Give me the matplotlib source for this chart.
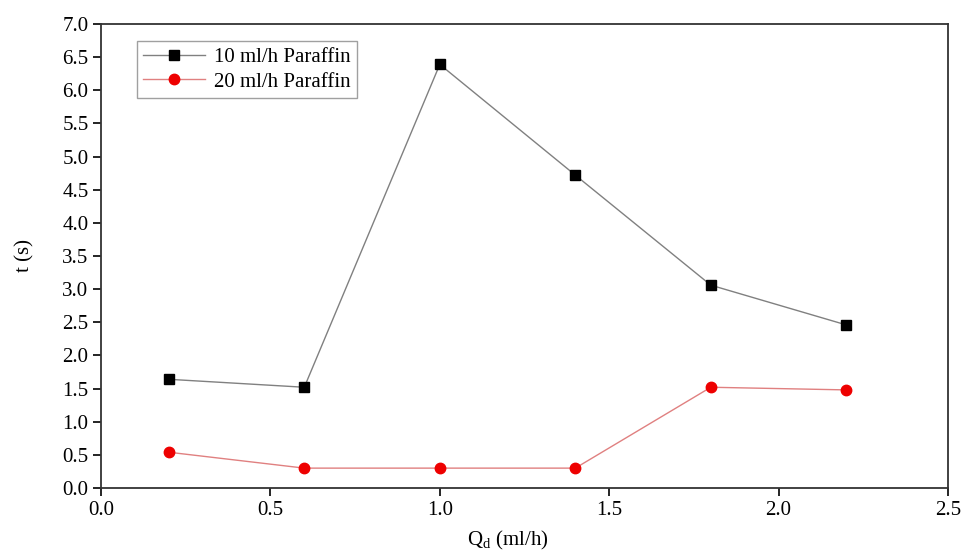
import matplotlib
matplotlib.use("Agg")
import matplotlib.pyplot as plt

x = [0.2, 0.6, 1.0, 1.4, 1.8, 2.2]
t_10 = [1.64, 1.52, 6.39, 4.72, 3.06, 2.46]
t_20 = [0.54, 0.30, 0.30, 0.30, 1.52, 1.48]
xticks = [0.0, 0.5, 1.0, 1.5, 2.0, 2.5]
yticks = [0.0, 0.5, 1.0, 1.5, 2.0, 2.5, 3.0, 3.5, 4.0, 4.5, 5.0, 5.5, 6.0, 6.5, 7.0]

plt.rcParams['font.family'] = ['Liberation Serif', 'DejaVu Serif']
plt.rcParams['mathtext.fontset'] = 'custom'
plt.rcParams['mathtext.rm'] = 'Liberation Serif'
plt.rcParams['mathtext.it'] = 'Liberation Serif:italic'
fig = plt.figure(figsize=(9.63, 5.5), dpi=100)
ax = fig.add_axes([0.1049, 0.1127, 0.8795, 0.8437])

ax.plot(x, t_10, color='#808080', lw=1.0, marker='s', ms=7, mfc='black', mec='black', label='10 ml/h Paraffin')
ax.plot(x, t_20, color='#e08080', lw=1.0, marker='o', ms=7.5, mfc='#ee0000', mec='#ee0000', label='20 ml/h Paraffin')

ax.set_xlim(0, 2.5)
ax.set_ylim(0, 7.0)
ax.set_xticks(xticks)
ax.set_xticklabels([f"{v:.1f}" for v in xticks])
ax.set_yticks(yticks)
ax.set_yticklabels([f"{v:.1f}" for v in yticks])
ax.tick_params(direction='out', length=6, width=1.2, labelsize=15, colors='black', pad=3)
for s in ax.spines.values():
    s.set_linewidth(1.3)
    s.set_color('#333333')

ax.set_ylabel('t (s)', fontsize=15)
ax.yaxis.set_label_coords(-0.078, 0.5)
ax.set_xlabel(r'Q$_\mathrm{d}$ (ml/h)', fontsize=15)
ax.xaxis.set_label_coords(0.48, -0.088)

leg = ax.legend(loc='upper left', bbox_to_anchor=(0.042, 0.963), fontsize=15, frameon=True,
                fancybox=False, edgecolor='#888888', handlelength=3.0, borderpad=0.3,
                labelspacing=0.25, handletextpad=0.4, borderaxespad=0)
leg.get_frame().set_linewidth(1.0)

fig.savefig('out.png', dpi=100)
